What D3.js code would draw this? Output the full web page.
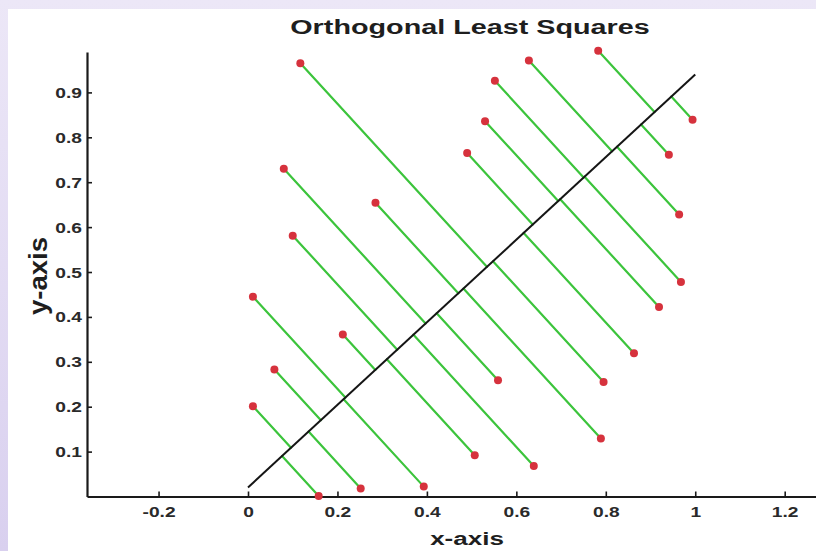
<!DOCTYPE html>
<html>
<head>
<meta charset="utf-8">
<script src="https://cdn.jsdelivr.net/npm/d3@7"></script>
<style>
  html, body { margin: 0; padding: 0; background: #e6e0f4; }
  svg { display: block; }
  text { font-family: "Liberation Sans", Arial, Helvetica, sans-serif; font-weight: bold; }
</style>
</head>
<body>
<svg id="chart" width="816" height="551"></svg>
<script>
// Sample points (x, y)
const pointsX = [0.117, 0.783, 0.628, 0.552, 0.530, 0.490, 0.080, 0.285, 0.100, 0.011, 0.212, 0.059, 0.011,
                 0.994, 0.941, 0.964, 0.968, 0.919, 0.863, 0.559, 0.795, 0.789, 0.639, 0.507, 0.158, 0.252, 0.393];
const pointsY = [0.965, 0.993, 0.971, 0.926, 0.836, 0.765, 0.730, 0.654, 0.581, 0.445, 0.361, 0.283, 0.201,
                 0.839, 0.761, 0.628, 0.478, 0.422, 0.319, 0.259, 0.255, 0.129, 0.068, 0.092, 0.001, 0.018, 0.022];

// Fitted line y = fitIntercept + fitSlope * x, drawn over fitRange
const fitIntercept = 0.02;
const fitSlope = 0.92;
const fitRange = [0, 1];

// Axes
const xDomain = [-0.36, 1.27];
const yDomain = [0, 0.99];
const xTicks = [-0.2, 0, 0.2, 0.4, 0.6, 0.8, 1, 1.2];
const xTickLabels = ["-0.2", "0", "0.2", "0.4", "0.6", "0.8", "1", "1.2"];
const yTicks = [0.1, 0.2, 0.3, 0.4, 0.5, 0.6, 0.7, 0.8, 0.9];
const yTickLabels = ["0.1", "0.2", "0.3", "0.4", "0.5", "0.6", "0.7", "0.8", "0.9"];

const titleText = "Orthogonal Least Squares";
const xLabelText = "x-axis";
const yLabelText = "y-axis";

const W = 816, H = 551;
const stretch = 1.37; // horizontal widening of the lettering

const svg = d3.select("#chart");

// backdrop: lavender frame with a white panel
const defs = svg.append("defs");
const grad = defs.append("linearGradient").attr("id", "bg").attr("x1", 0).attr("y1", 0).attr("x2", 0).attr("y2", 1);
grad.append("stop").attr("offset", "0%").attr("stop-color", "#ece7f7");
grad.append("stop").attr("offset", "100%").attr("stop-color", "#d9d0ef");
svg.append("rect").attr("width", W).attr("height", H).attr("fill", "url(#bg)");
svg.append("rect").attr("x", 8).attr("y", 9).attr("width", W - 8).attr("height", H - 9).attr("fill", "#ffffff");

const x = d3.scaleLinear().domain(xDomain).range([87, 816]);
const y = d3.scaleLinear().domain(yDomain).range([496.5, 52]);

// perpendicular foot of each point on the fitted line
const foot = (px, py) => {
  const t = (px + fitSlope * (py - fitIntercept)) / (1 + fitSlope * fitSlope);
  return [t, fitIntercept + fitSlope * t];
};

const pts = pointsX.map((px, i) => ({ x: px, y: pointsY[i], f: foot(px, pointsY[i]) }));

// residual segments
svg.append("g").selectAll("line.res").data(pts).join("line")
  .attr("class", "res")
  .attr("x1", d => x(d.x)).attr("y1", d => y(d.y))
  .attr("x2", d => x(d.f[0])).attr("y2", d => y(d.f[1]))
  .attr("stroke", "#3cc43c").attr("stroke-width", 2.2).attr("stroke-linecap", "round");

// fitted line
svg.append("line")
  .attr("x1", x(fitRange[0])).attr("y1", y(fitIntercept + fitSlope * fitRange[0]))
  .attr("x2", x(fitRange[1])).attr("y2", y(fitIntercept + fitSlope * fitRange[1]))
  .attr("stroke", "#151515").attr("stroke-width", 2);

// axes
const xAxis = d3.axisBottom(x).tickValues(xTicks).tickFormat((d, i) => xTickLabels[i])
  .tickSizeInner(-5).tickSizeOuter(0).tickPadding(11);
const yAxis = d3.axisLeft(y).tickValues(yTicks).tickFormat((d, i) => yTickLabels[i])
  .tickSizeInner(-5).tickSizeOuter(0).tickPadding(5);

const gx = svg.append("g").attr("transform", `translate(0,${y(0)})`).call(xAxis);
const gy = svg.append("g").attr("transform", `translate(${x(xDomain[0])},0)`).call(yAxis);

[gx, gy].forEach(g => {
  g.select(".domain").attr("stroke", "#1a1a1a").attr("stroke-width", 2.2);
  g.selectAll(".tick line").attr("stroke", "#1a1a1a").attr("stroke-width", 1.6);
  g.selectAll(".tick text").attr("fill", "#2a2a2a").attr("font-size", 14)
    .attr("font-family", "'Liberation Sans', Arial, sans-serif").attr("font-weight", "bold");
});
gx.selectAll(".tick text").attr("transform", `scale(${stretch},1)`);
gy.selectAll(".tick text").attr("x", -5 / stretch).attr("dy", "0.36em").attr("transform", `scale(${stretch},1)`);

// data points
svg.append("g").selectAll("circle").data(pts).join("circle")
  .attr("cx", d => x(d.x)).attr("cy", d => y(d.y)).attr("r", 4)
  .attr("fill", "#d6323d");

// title and axis labels
svg.append("text").attr("transform", `translate(470,34) scale(${stretch},1)`)
  .attr("text-anchor", "middle").attr("font-size", 21).attr("fill", "#1e1e1e").text(titleText);
svg.append("text").attr("transform", `translate(467,545) scale(${stretch},1)`)
  .attr("text-anchor", "middle").attr("font-size", 19).attr("fill", "#1e1e1e").text(xLabelText);
svg.append("text").attr("transform", `translate(47,276) rotate(-90) scale(1.1,1)`)
  .attr("text-anchor", "middle").attr("font-size", 25).attr("fill", "#1e1e1e").text(yLabelText);
</script>
</body>
</html>
